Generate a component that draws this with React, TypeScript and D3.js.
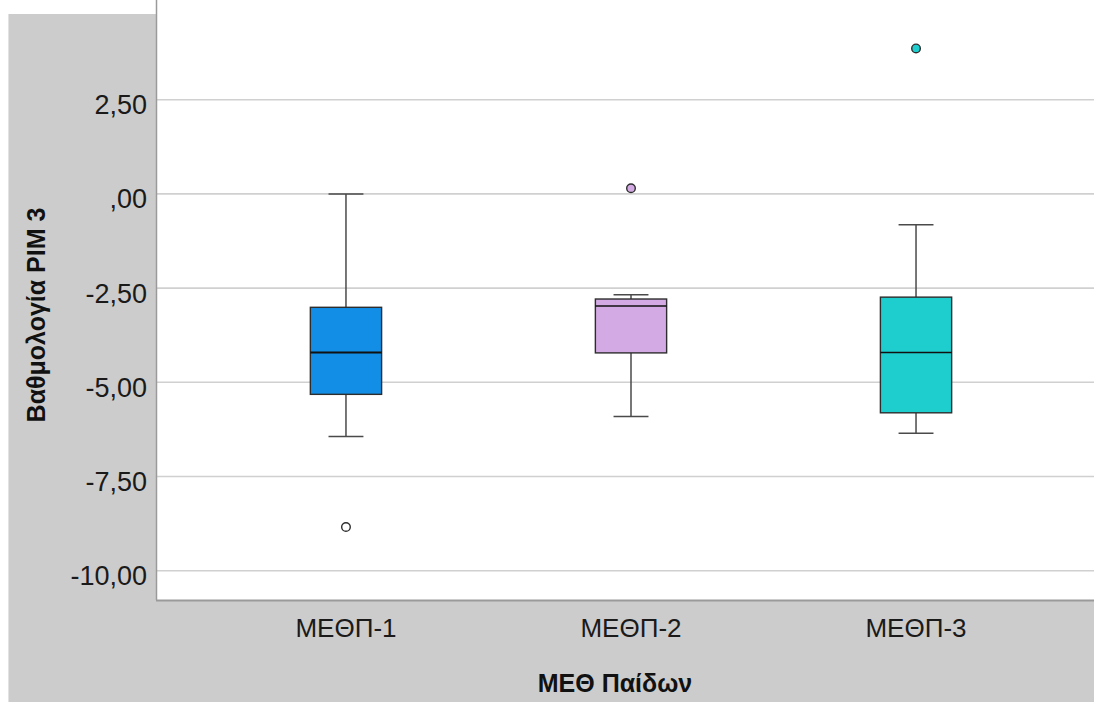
import React from "react";
import * as d3 from "d3";

// Group labels and box-plot statistics (PIM 3 score per paediatric ICU)
const categories = ["ΜΕΘΠ-1", "ΜΕΘΠ-2", "ΜΕΘΠ-3"];
const whiskerLow = [-6.44, -5.91, -6.35];
const q1 = [-5.32, -4.22, -5.81];
const median = [-4.21, -2.975, -4.21];
const q3 = [-3.01, -2.79, -2.74];
const whiskerHigh = [0, -2.675, -0.82];
const outliers = [[-8.84], [0.15], [3.86]];
const fills = ["#128ee6", "#d3aae3", "#1ecece"];
const outlierFills = ["#ffffff", "#d3aae3", "#1ecece"];
const yTicks = [2.5, 0, -2.5, -5, -7.5, -10];

const W = 1094;
const H = 702;
const plot = { left: 157, right: 1105, top: 0, bottom: 600 };

const fmt = (v: number) => {
  const s = Math.abs(v).toFixed(2).replace(".", ",");
  const body = s.startsWith("0,") ? s.slice(1) : s;
  return (v < 0 ? "-" : "") + body;
};

export default function App() {
  const y = d3.scaleLinear().domain([5.146, -10.778]).range([plot.top, plot.bottom]);
  const x = d3.scalePoint<string>().domain(categories).range([plot.left, plot.right]).padding(0.663);
  const boxW = x.step() * 0.25;
  const capW = boxW * 0.49;
  const font = "Liberation Sans, Arial, sans-serif";

  return (
    <div style={{ position: "fixed", left: 0, top: 0, width: W, height: H, background: "#fff" }}>
      <svg width={W} height={H} style={{ display: "block" }}>
        <rect x={0} y={0} width={W} height={H} fill="#ffffff" />
        <rect x={8} y={14} width={W - 8} height={H - 14} fill="#cccccc" />
        <line x1={8.5} y1={14} x2={8.5} y2={H} stroke="#e2e2e2" strokeWidth={1} />
        <rect x={plot.left} y={0} width={W - plot.left} height={plot.bottom} fill="#ffffff" />

        {yTicks.map((t) => (
          <g key={t}>
            <line x1={plot.left} x2={W} y1={y(t)} y2={y(t)} stroke="#d0d0d0" strokeWidth={1.6} />
            <text x={147} y={y(t) + 14.5} textAnchor="end" fontFamily={font} fontSize={27} fill="#1a1a1a">
              {fmt(t)}
            </text>
          </g>
        ))}

        <line x1={plot.left - 0.5} x2={plot.left - 0.5} y1={0} y2={plot.bottom} stroke="#9a9a9a" strokeWidth={1.5} />
        <line x1={plot.left - 1} x2={W} y1={plot.bottom + 0.5} y2={plot.bottom + 0.5} stroke="#9a9a9a" strokeWidth={2} />

        {categories.map((c, i) => {
          const cx = x(c) as number;
          return (
            <g key={c}>
              <line x1={cx} x2={cx} y1={y(whiskerHigh[i])} y2={y(q3[i])} stroke="#4a4a4a" strokeWidth={1.5} />
              <line x1={cx} x2={cx} y1={y(q1[i])} y2={y(whiskerLow[i])} stroke="#4a4a4a" strokeWidth={1.5} />
              <line x1={cx - capW / 2} x2={cx + capW / 2} y1={y(whiskerHigh[i])} y2={y(whiskerHigh[i])} stroke="#4a4a4a" strokeWidth={1.5} />
              <line x1={cx - capW / 2} x2={cx + capW / 2} y1={y(whiskerLow[i])} y2={y(whiskerLow[i])} stroke="#4a4a4a" strokeWidth={1.5} />
              <rect
                x={cx - boxW / 2}
                y={y(q3[i])}
                width={boxW}
                height={y(q1[i]) - y(q3[i])}
                fill={fills[i]}
                stroke="#2d2d2d"
                strokeWidth={1.4}
              />
              <line x1={cx - boxW / 2} x2={cx + boxW / 2} y1={y(median[i])} y2={y(median[i])} stroke="#111" strokeWidth={i === 0 ? 2.2 : 1.6} />
              {outliers[i].map((o, k) => (
                <circle key={k} cx={cx} cy={y(o)} r={4.3} fill={outlierFills[i]} stroke="#2d2d2d" strokeWidth={1.4} />
              ))}
              <text x={cx} y={637} textAnchor="middle" fontFamily={font} fontSize={26} fill="#1a1a1a">
                {c}
              </text>
            </g>
          );
        })}

        <text x={615} y={692} textAnchor="middle" fontFamily={font} fontSize={25} fontWeight="bold" fill="#111">
          ΜΕΘ Παίδων
        </text>
        <text
          transform={`translate(45,315) rotate(-90)`}
          textAnchor="middle"
          fontFamily={font}
          fontSize={25}
          fontWeight="bold"
          fill="#111"
        >
          Βαθμολογία PIM 3
        </text>
      </svg>
    </div>
  );
}
